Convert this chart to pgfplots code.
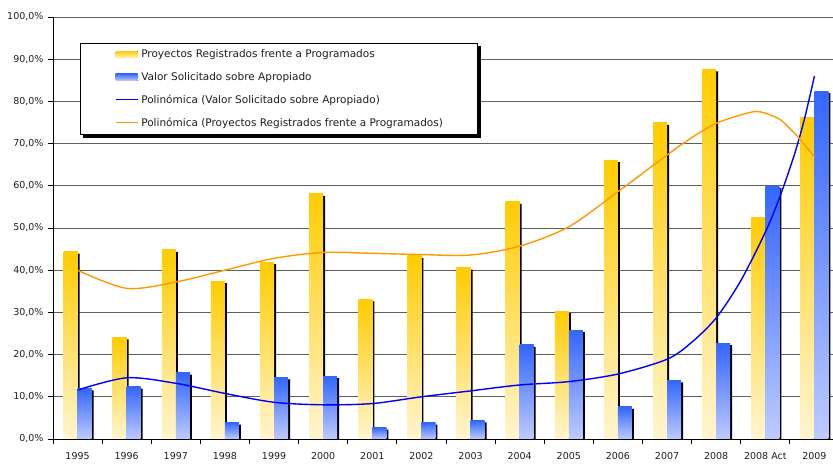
\documentclass[border=0pt]{standalone}
\usepackage{pgfplots}
\pgfplotsset{compat=1.18}
\usepackage{fontspec}
\setmainfont{DejaVu Sans}
\definecolor{gold}{RGB}{255,204,0}
\definecolor{paleyel}{RGB}{255,245,208}
\definecolor{barblue}{RGB}{51,102,255}
\definecolor{paleblue}{RGB}{190,203,255}
\definecolor{trendorange}{RGB}{255,153,0}
\definecolor{trendblue}{RGB}{0,0,255}
\definecolor{gridgray}{RGB}{95,95,95}
\definecolor{txt}{RGB}{30,30,30}
\pgfplotsset{
  ybarY/.style={ybar, bar width=14pt, bar shift=-7pt, draw=none, top color=gold, bottom color=paleyel, forget plot},
  ybarB/.style={ybar, bar width=14pt, bar shift=7pt, draw=none, top color=barblue, bottom color=paleblue, forget plot},
}
\begin{document}
\begin{tikzpicture}[x=1pt,y=1pt]
\begin{axis}[
  scale only axis, width=786pt, height=422pt,
  at={(0pt,0pt)}, anchor=south west,
  xmin=-0.5, xmax=15.5, ymin=0, ymax=100,
  axis lines*=left,
  axis line style={black, line width=0.9pt},
  ymajorgrids, grid style={gridgray, line width=0.9pt},
  ytick={0,10,...,100},
  yticklabel={\pgfmathprintnumber[fixed,fixed zerofill,precision=1,use comma]{\tick}\%},
  xtick={0,...,15},
  xticklabels={1995,1996,1997,1998,1999,2000,2001,2002,2003,2004,2005,2006,2007,2008,2008 Act,2009},
  minor xtick={-0.5,0.5,...,15.5},
  major x tick style={draw=none},
  minor x tick style={black, line width=0.8pt},
  major y tick style={black, line width=0.8pt},
  tick align=outside,
  major tick length=5pt, minor tick length=5pt,
  yticklabel style={font=\fontsize{9.5}{11}\selectfont, text=txt, xshift=-1pt},
  xticklabel style={font=\fontsize{9.5}{11}\selectfont, text=txt, yshift=-5pt},
  /pgf/number format/assume math mode=true,
  clip=true,
  legend cell align=left,
  legend style={name=leg, at={(0.0344,0.9384)}, anchor=north west,
    draw=black, line width=0.8pt, fill=white,
    font=\fontsize{10.5}{12}\selectfont, text=txt,
    inner xsep=34.5pt, inner ysep=5pt, row sep=10pt,
    nodes={inner xsep=0pt, inner ysep=1.5pt}},
]
% shadows
\addplot[ybar, bar width=14pt, bar shift=-5pt, fill=black, draw=none, forget plot, y filter/.expression={y-0.47}]
coordinates {(0,44.4) (1,24.1) (2,44.8) (3,37.4) (4,41.9) (5,58.1) (6,33.1) (7,43.4) (8,40.6) (9,56.2) (10,30.3) (11,66.1) (12,74.9) (13,87.6) (14,52.4) (15,76.1)};
\addplot[ybar, bar width=14pt, bar shift=9pt, fill=black, draw=none, forget plot, y filter/.expression={y-0.47}]
coordinates {(0,12.0) (1,12.4) (2,15.7) (3,3.9) (4,14.6) (5,14.9) (6,2.7) (7,3.9) (8,4.4) (9,22.3) (10,25.8) (11,7.6) (12,13.9) (13,22.7) (14,59.9) (15,82.4)};
% yellow bars (one plot per bar so each has its own gradient)
\addplot[ybarY, forget plot=false,
  legend image code/.code={\fill[top color=gold, bottom color=paleyel] (0pt,-3.5pt) rectangle (22pt,3.5pt); \path (25pt,0pt);}]
  coordinates {(0,44.4)};
\addlegendentry{Proyectos Registrados frente a Programados}
\addplot[ybarY] coordinates {(1,24.1)};
\addplot[ybarY] coordinates {(2,44.8)};
\addplot[ybarY] coordinates {(3,37.4)};
\addplot[ybarY] coordinates {(4,41.9)};
\addplot[ybarY] coordinates {(5,58.1)};
\addplot[ybarY] coordinates {(6,33.1)};
\addplot[ybarY] coordinates {(7,43.4)};
\addplot[ybarY] coordinates {(8,40.6)};
\addplot[ybarY] coordinates {(9,56.2)};
\addplot[ybarY] coordinates {(10,30.3)};
\addplot[ybarY] coordinates {(11,66.1)};
\addplot[ybarY] coordinates {(12,74.9)};
\addplot[ybarY] coordinates {(13,87.6)};
\addplot[ybarY] coordinates {(14,52.4)};
\addplot[ybarY] coordinates {(15,76.1)};
% blue bars
\addplot[ybarB, forget plot=false,
  legend image code/.code={\fill[top color=barblue, bottom color=paleblue] (0pt,-3.5pt) rectangle (22pt,3.5pt); \path (25pt,0pt);}]
  coordinates {(0,12.0)};
\addlegendentry{Valor Solicitado sobre Apropiado}
\addplot[ybarB] coordinates {(1,12.4)};
\addplot[ybarB] coordinates {(2,15.7)};
\addplot[ybarB] coordinates {(3,3.9)};
\addplot[ybarB] coordinates {(4,14.6)};
\addplot[ybarB] coordinates {(5,14.9)};
\addplot[ybarB] coordinates {(6,2.7)};
\addplot[ybarB] coordinates {(7,3.9)};
\addplot[ybarB] coordinates {(8,4.4)};
\addplot[ybarB] coordinates {(9,22.3)};
\addplot[ybarB] coordinates {(10,25.8)};
\addplot[ybarB] coordinates {(11,7.6)};
\addplot[ybarB] coordinates {(12,13.9)};
\addplot[ybarB] coordinates {(13,22.7)};
\addplot[ybarB] coordinates {(14,59.9)};
\addplot[ybarB] coordinates {(15,82.4)};
% trend lines
\addplot[smooth, draw=trendblue, line width=1.4pt, mark=none,
  legend image code/.code={\draw[draw=trendblue, line width=1.4pt] (0pt,0pt) -- (22pt,0pt); \path (25pt,0pt);}]
coordinates {(0,11.6) (1,14.5) (2,13.2) (3,10.8) (4,8.7) (5,8.1) (6,8.4) (7,10.0) (8,11.4) (9,12.8) (10,13.6) (11,15.4) (12,18.9) (12.5,22.9) (13,28.7) (13.5,37.5) (14,49.0) (14.3,57.5) (14.6,67.7) (14.8,76.0) (15,86.0)};
\addlegendentry{Polinómica (Valor Solicitado sobre Apropiado)}
\addplot[smooth, draw=trendorange, line width=1.4pt, mark=none,
  legend image code/.code={\draw[draw=trendorange, line width=1.4pt] (0pt,0pt) -- (22pt,0pt); \path (25pt,0pt);}]
coordinates {(0,40.0) (1,35.7) (2,37.2) (3,40.0) (4,42.8) (5,44.2) (6,44.0) (7,43.7) (8,43.6) (9,45.7) (10,50.3) (11,58.6) (12,67.3) (12.5,71.4) (13,74.8) (13.5,76.8) (13.8,77.6) (14,77.2) (14.3,75.7) (14.6,72.4) (14.8,69.7) (15,66.9)};
\addlegendentry{Polinómica (Proyectos Registrados frente a Programados)}
\end{axis}
% legend drop shadow (L-shaped strip beside the legend frame)
\fill[black] ([yshift=-3pt]leg.north east) rectangle ([xshift=3.4pt,yshift=-3.4pt]leg.south east);
\fill[black] ([xshift=3pt]leg.south west) rectangle ([xshift=3.4pt,yshift=-3.4pt]leg.south east);
\pgfresetboundingbox
\path[use as bounding box] (-53pt,-26pt) rectangle (780pt,439pt);
\end{tikzpicture}
\end{document}
